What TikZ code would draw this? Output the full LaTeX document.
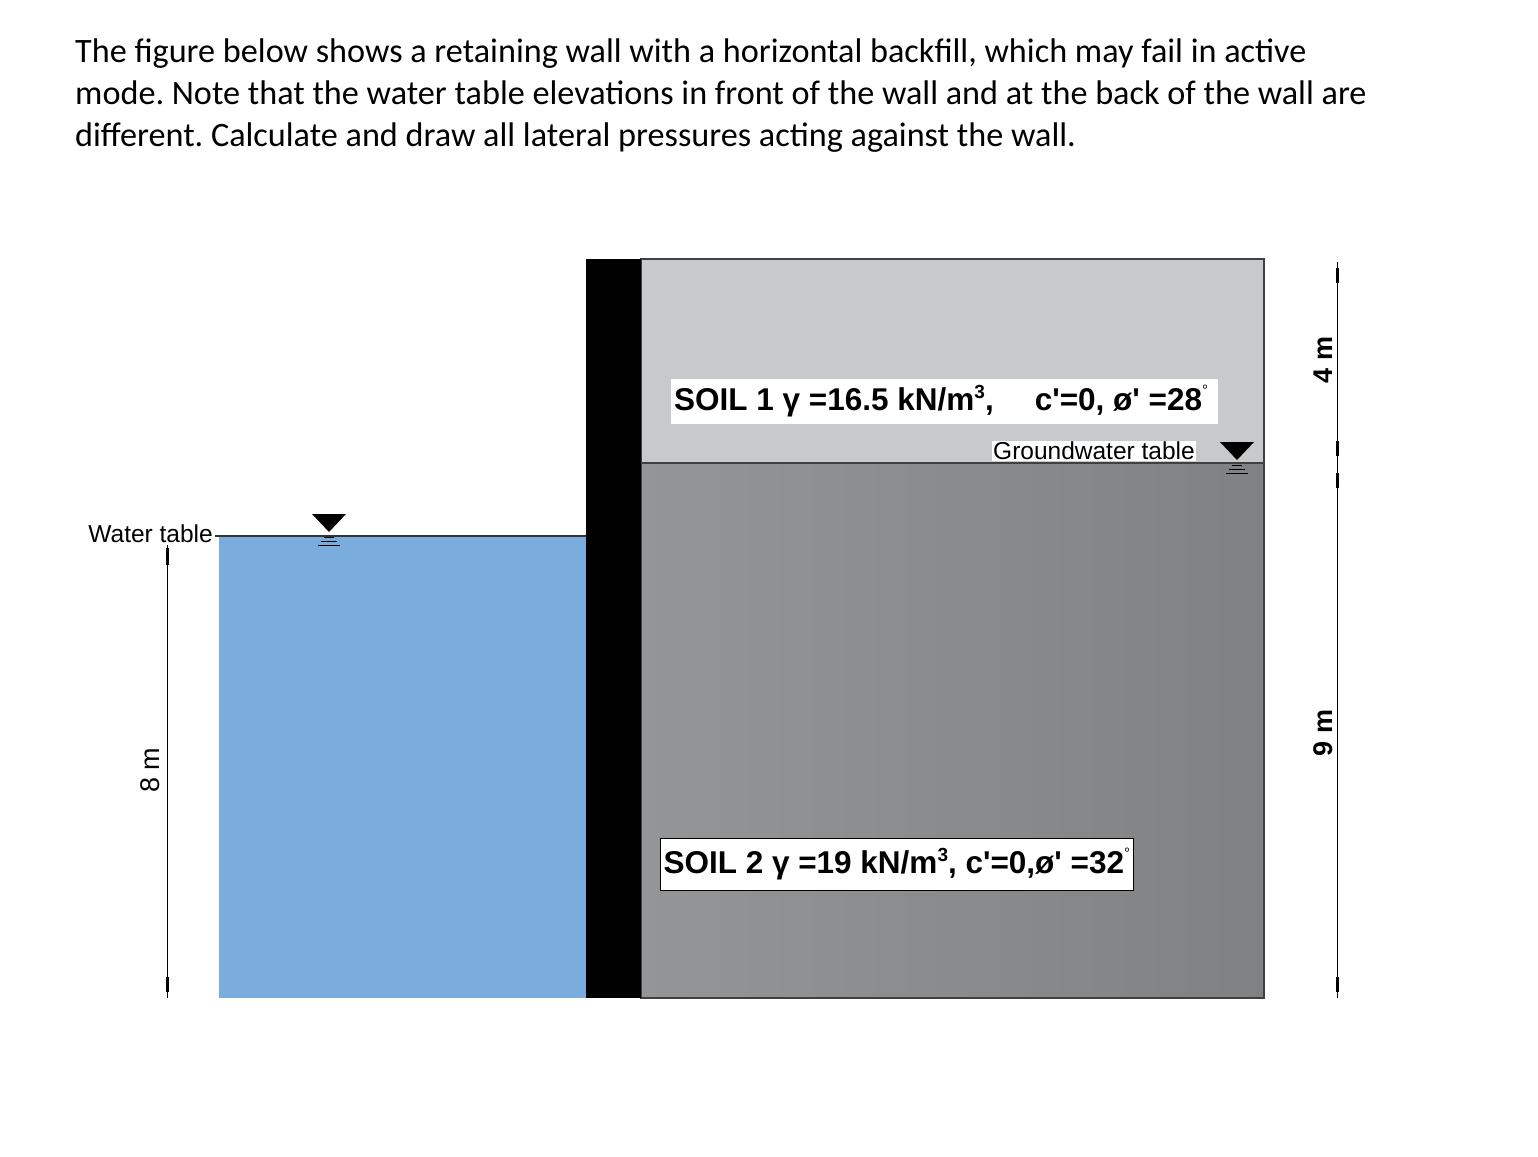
\documentclass[tikz,border=0pt]{standalone}
\usepackage{fontspec}
\setmainfont{Carlito}
\newfontfamily\arialf{Liberation Sans}
\newcommand{\mysupthree}{\raisebox{0.75ex}{\fontsize{19}{19}\selectfont 3}}
\newcommand{\mydeg}{\raisebox{0.9ex}{\fontsize{15}{15}\selectfont\mdseries °}}
\begin{document}
\frenchspacing
\begin{tikzpicture}[x=1pt,y=-1pt,
  lbl/.style={font=\arialf\bfseries\fontsize{31.5}{33}\selectfont,inner sep=3pt},
  sml/.style={font=\arialf\fontsize{24.5}{26}\selectfont,inner sep=1pt},
  dim/.style={font=\arialf\fontsize{27}{29}\selectfont,inner sep=1pt,rotate=90},
  tick/.style={line width=3pt}]
\useasboundingbox (0,0) rectangle (1538,1156);
\node[anchor=north west,align=left,font=\fontsize{34.2}{42}\selectfont,inner sep=0pt] (title) at (75,39)
 {The figure below shows a retaining wall with a horizontal backfill, which may fail in active\\
 mode. Note that the water table elevations in front of the wall and at the back of the wall are\\
 different. Calculate and draw all lateral pressures acting against the wall.};
% soils
\fill[left color={rgb,255:red,148;green,149;blue,151},right color={rgb,255:red,128;green,129;blue,131}] (641,463) rectangle (1264,998);
\fill[fill={rgb,255:red,200;green,201;blue,203}] (641,259) rectangle (1264,463);
\draw[line width=1.2pt,black!75] (641,259) rectangle (1264,998);
\draw[line width=1.2pt,black!75] (641,463) -- (1264,463);
% water
\fill[fill={rgb,255:red,122;green,173;blue,222}] (219,536) rectangle (586,998);
\draw[line width=1.2pt,black!80] (215,536) -- (586,536);
% wall
\fill[black] (586,259) rectangle (641,998);
% labels
\node[lbl,fill=white,anchor=west,minimum height=45pt] (s1) at (671,401) {\makebox[541pt][l]{SOIL 1 γ =16.5 kN/m\mysupthree,\hspace{1.3em}c'=0, ø' =28\mydeg}};
\node[sml,fill=white,anchor=west] (gw) at (992,451) {Groundwater table};
\node[lbl,fill=white,draw=black,line width=1pt,anchor=west,minimum height=52pt] (s2) at (660,864) {SOIL 2 γ =19 kN/m\mysupthree, c'=0,ø' =32\mydeg};
\node[sml,anchor=east] (wt) at (214,534) {Water table};
% water table symbols
\foreach \x/\y in {329/514,1237/442}{
 \fill[black] (\x-17,\y) -- (\x+17,\y) -- (\x,\y+18) -- cycle;
 \draw[line width=1pt] (\x-5,\y+23)--(\x+5,\y+23) (\x-8,\y+27)--(\x+8,\y+27) (\x-11,\y+31)--(\x+11,\y+31);
}
% dimension lines
\coordinate (l1) at (167,545); \coordinate (l2) at (167,998);
\draw[line width=1pt] (l1) -- (l2);
\draw[tick] (167,548)--(167,565) (167,977)--(167,992);
\node[dim] (d8) at (150,770) {8 m};
\coordinate (r1) at (1337,262); \coordinate (r2) at (1337,998);
\draw[line width=1pt] (r1) -- (r2);
\draw[tick] (1337,268)--(1337,283) (1337,441)--(1337,456) (1337,473)--(1337,488) (1337,977)--(1337,992);
\node[dim,font=\arialf\bfseries\fontsize{27}{29}\selectfont] (d4) at (1323,360) {4 m};
\node[dim,font=\arialf\bfseries\fontsize{27}{29}\selectfont] (d9) at (1323,733) {9 m};
\end{tikzpicture}
\end{document}
